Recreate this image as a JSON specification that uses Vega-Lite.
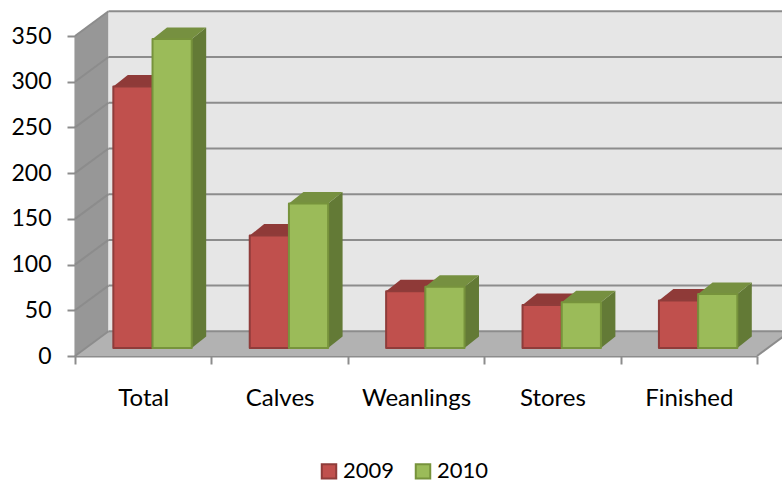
{
"$schema":"https://vega.github.io/schema/vega-lite/v6.json",
"width":682,"height":320,"autosize":"none",
"padding":{"left":75,"top":36,"right":25,"bottom":126},
"background":"white",
"config":{"view":{"stroke":null},"font":"Lato"},
"datasets":{
"bars":[
{"category":"Total","year":2009,"value":286},
{"category":"Total","year":2010,"value":338},
{"category":"Calves","year":2009,"value":123},
{"category":"Calves","year":2010,"value":158},
{"category":"Weanlings","year":2009,"value":62},
{"category":"Weanlings","year":2010,"value":67},
{"category":"Stores","year":2009,"value":47},
{"category":"Stores","year":2010,"value":50},
{"category":"Finished","year":2009,"value":52},
{"category":"Finished","year":2010,"value":59}],
"ticks":[{"tick":0},{"tick":50},{"tick":100},{"tick":150},{"tick":200},{"tick":250},{"tick":300},{"tick":350}],
"depth":[{"t":0},{"t":1}]
},
"layer":[
{"data":{"name":"depth"},"transform":[{"calculate":"datum.t*0.2456","as":"xa"},{"calculate":"5+datum.t*0.2456","as":"xb"},{"calculate":"datum.t*27","as":"ya"}],
 "mark":{"type":"area","orient":"horizontal","fill":"#B2B2B2","stroke":"#8C8C8C","strokeWidth":0},
 "encoding":{"y":{"field":"ya","type":"quantitative","scale":{"domain":[0,350]},"axis":{"values":[0,50,100,150,200,250,300,350],"title":null,"grid":false,"tickSize":8,"tickColor":"#8C8C8C","tickWidth":2,"domainColor":"#8C8C8C","domainWidth":2,"labelFontSize":23,"labelColor":"#000000","labelPadding":16,"labelFont":"Lato"}},
 "x":{"field":"xa","type":"quantitative","scale":{"domain":[0,5]},"axis":{"values":[0,0.5,1,1.5,2,2.5,3,3.5,4,4.5,5],"title":null,"grid":false,"tickSize":8,"tickColor":"#8C8C8C","tickWidth":2,"tickOpacity":{"condition":{"test":"datum.value%1!=0","value":0},"value":1},"domainColor":"#8C8C8C","domainWidth":2,"labelFontSize":24,"labelColor":"#000000","labelPadding":22,"labelFont":"Lato","labelOverlap":false,"labelFlush":false,"labelExpr":"datum.value%1==0.5 ? ['Total','Calves','Weanlings','Stores','Finished'][floor(datum.value)] : ''"}},
 "x2":{"field":"xb"}}},
{"data":{"name":"depth"},"transform":[{"calculate":"datum.t*0.2456","as":"xa"},{"calculate":"datum.t*27","as":"ya"},{"calculate":"350+datum.t*27","as":"yb"}],
 "mark":{"type":"area","fill":"#979797"},
 "encoding":{"x":{"field":"xa","type":"quantitative"},"y":{"field":"ya","type":"quantitative"},"y2":{"field":"yb"}}},
{"data":{"values":[{"x0":0.2456,"x1":5.2456,"y0":27,"y1":377}]},
 "mark":{"type":"rect","fill":"#E6E6E6"},
 "encoding":{"x":{"field":"x0","type":"quantitative"},"x2":{"field":"x1"},"y":{"field":"y0","type":"quantitative"},"y2":{"field":"y1"}}},
{"data":{"name":"ticks"},"transform":[{"calculate":"datum.tick+27","as":"back"},{"calculate":"0.2456","as":"xa"},{"calculate":"5.2456","as":"xb"}],
 "mark":{"type":"rule","stroke":"#8C8C8C","strokeWidth":2},
 "encoding":{"x":{"field":"xa","type":"quantitative"},"x2":{"field":"xb"},"y":{"field":"back","type":"quantitative"}}},
{"data":{"name":"ticks"},"transform":[{"calculate":"datum.tick+27","as":"back"},{"calculate":"0","as":"xa"},{"calculate":"0.2456","as":"xb"}],
 "mark":{"type":"rule","stroke":"#8C8C8C","strokeWidth":2},
 "encoding":{"x":{"field":"xa","type":"quantitative"},"x2":{"field":"xb"},"y":{"field":"tick","type":"quantitative"},"y2":{"field":"back"}}},
{"data":{"values":[{"t":0,"xa":5,"ya":0},{"t":1,"xa":5.2456,"ya":27}]},
 "mark":{"type":"line","stroke":"#8C8C8C","strokeWidth":2},
 "encoding":{"x":{"field":"xa","type":"quantitative"},"y":{"field":"ya","type":"quantitative"}}},
{"data":{"name":"bars"},"transform":[
 {"calculate":"indexof(['Total','Calves','Weanlings','Stores','Finished'],datum.category)+0.281+(datum.year==2010?0.2874:0)","as":"left"},
 {"calculate":"[0,1]","as":"ts"},{"flatten":["ts"],"as":["t"]},
 {"calculate":"datum.left+0.2874+datum.t*0.106","as":"xs"},
 {"calculate":"8.75+datum.t*12.6","as":"ylow"},
 {"calculate":"8.75+datum.value+datum.t*12.6","as":"yhigh"},
 {"calculate":"datum.category+datum.year","as":"bar"}],
 "mark":{"type":"area","orient":"vertical"},
 "encoding":{"detail":{"field":"bar"},"x":{"field":"xs","type":"quantitative"},"y":{"field":"ylow","type":"quantitative"},"y2":{"field":"yhigh"},
 "fill":{"condition":{"test":"datum.year==2009","value":"#7C2F2D"},"value":"#637A36"}}},
{"data":{"name":"bars"},"transform":[
 {"calculate":"indexof(['Total','Calves','Weanlings','Stores','Finished'],datum.category)+0.281+(datum.year==2010?0.2874:0)","as":"left"},
 {"calculate":"[0,1]","as":"ts"},{"flatten":["ts"],"as":["t"]},
 {"calculate":"datum.left+datum.t*0.106","as":"xa"},
 {"calculate":"datum.left+0.2874+datum.t*0.106","as":"xb"},
 {"calculate":"8.75+datum.value+datum.t*12.6","as":"yt"},
 {"calculate":"datum.category+datum.year","as":"bar"}],
 "mark":{"type":"area","orient":"horizontal"},
 "encoding":{"detail":{"field":"bar"},"y":{"field":"yt","type":"quantitative"},"x":{"field":"xa","type":"quantitative"},"x2":{"field":"xb"},
 "fill":{"condition":{"test":"datum.year==2009","value":"#8F3A38"},"value":"#769040"}}},
{"data":{"name":"bars"},"transform":[
 {"calculate":"indexof(['Total','Calves','Weanlings','Stores','Finished'],datum.category)+0.281+(datum.year==2010?0.2874:0)","as":"left"},
 {"calculate":"datum.left+0.2874","as":"right"},
 {"calculate":"8.75","as":"base"},
 {"calculate":"8.75+datum.value","as":"top"}],
 "mark":{"type":"rect","strokeWidth":2,"strokeJoin":"round"},
 "encoding":{"x":{"field":"left","type":"quantitative"},"x2":{"field":"right"},"y":{"field":"base","type":"quantitative"},"y2":{"field":"top"},
 "fill":{"field":"year","type":"nominal","scale":{"domain":[2009,2010],"range":["#C0504D","#9BBB59"]},
  "legend":{"title":null,"orient":"none","legendX":243,"legendY":424,"direction":"horizontal","symbolType":"square","symbolSize":210,"symbolStrokeWidth":2,"labelFontSize":22,"labelColor":"#000000","labelFont":"Lato","labelOffset":3,"columnPadding":16,"labelLimit":200}},
 "stroke":{"field":"year","type":"nominal","scale":{"domain":[2009,2010],"range":["#8F3C3A","#77933C"]}}}}
]
}
